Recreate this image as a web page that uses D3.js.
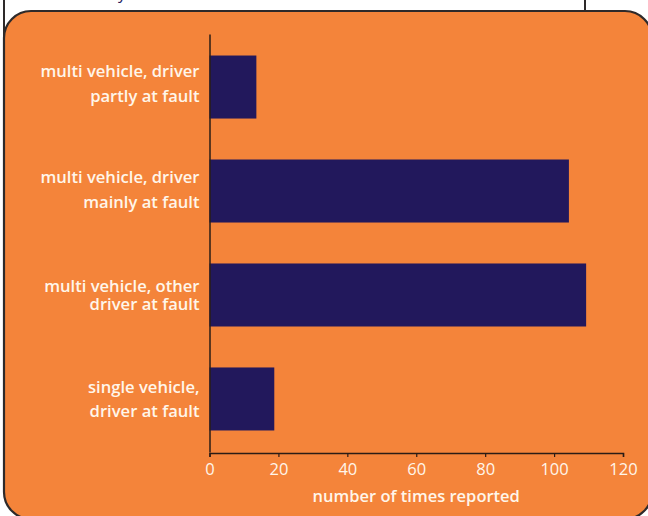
<!DOCTYPE html>
<html>
<head>
<meta charset="utf-8">
<script src="https://cdn.jsdelivr.net/npm/d3@7"></script>
<style>
  html, body { margin: 0; padding: 0; background: #ffffff; }
  svg { display: block; }
</style>
</head>
<body>
<svg id="chart" width="648" height="516"></svg>
<script>
// ---- data ----
const categories = [
  "multi vehicle, driver partly at fault",
  "multi vehicle, driver mainly at fault",
  "multi vehicle, other driver at fault",
  "single vehicle, driver at fault"
];
const categoryLines = [
  ["multi vehicle, driver", "partly at fault"],
  ["multi vehicle, driver", "mainly at fault"],
  ["multi vehicle, other", "driver at fault"],
  ["single vehicle,", "driver at fault"]
];
const values = [13.6, 104.3, 109.3, 18.8];
const xTicks = [0, 20, 40, 60, 80, 100, 120];
const xTitle = "number of times reported";

// ---- layout / style ----
const orange = "#F4843A", navy = "#22185C", cream = "#FFF6EA", border = "#2e2a2a";
const fontFam = "'Open Sans', Lato, sans-serif";

const svg = d3.select("#chart");

// white page remnants above the panel
svg.append("text").attr("x", 118).attr("y", -1)
  .attr("font-family", fontFam).attr("font-size", 16).attr("fill", navy).text("y");
svg.append("line").attr("x1", 4).attr("x2", 4).attr("y1", 0).attr("y2", 60)
  .attr("stroke", border).attr("stroke-width", 2);
svg.append("line").attr("x1", 585).attr("x2", 585).attr("y1", 0).attr("y2", 12)
  .attr("stroke", border).attr("stroke-width", 2);

// orange rounded panel
svg.append("rect").attr("x", 4).attr("y", 11).attr("width", 648).attr("height", 508)
  .attr("rx", 27).attr("ry", 27)
  .attr("fill", orange).attr("stroke", border).attr("stroke-width", 2.2);

const x = d3.scaleLinear().domain([0, 120]).range([209.5, 623]);
const y = d3.scaleBand().domain(categories).range([34, 452])
  .paddingInner(0.394).paddingOuter(0.207);

// bars
svg.append("g").selectAll("rect").data(values).join("rect")
  .attr("x", x(0))
  .attr("y", (d, i) => y(categories[i]))
  .attr("width", d => x(d) - x(0))
  .attr("height", y.bandwidth())
  .attr("fill", navy);

// y axis (line only)
const yAxis = svg.append("g").attr("transform", `translate(${x(0)},0)`)
  .call(d3.axisLeft(y).tickSize(0).tickFormat(""));
yAxis.select(".domain").attr("stroke", "#2a1c16").attr("stroke-width", 1.5);
yAxis.selectAll(".tick").remove();

// x axis
const xAxis = svg.append("g").attr("transform", "translate(0,453)")
  .call(d3.axisBottom(x).tickValues(xTicks).tickSize(4).tickPadding(6));
xAxis.select(".domain").attr("stroke", "#2a1c16").attr("stroke-width", 1.5);
xAxis.selectAll(".tick line").attr("stroke", "#2a1c16").attr("stroke-width", 1.2);
xAxis.selectAll(".tick text").attr("fill", cream)
  .attr("font-family", fontFam).attr("font-size", 16.5);

// x title
svg.append("text").attr("x", (x(0) + x(120)) / 2).attr("y", 502)
  .attr("text-anchor", "middle").attr("fill", cream)
  .attr("font-family", fontFam).attr("font-weight", 600).attr("font-size", 16.5).text(xTitle);

// category labels
const lineGaps = [25, 25, 17.5, 24];
const firstOffsets = [-9.8, -8.5, -2.5, -5.5];
categoryLines.forEach((lines, i) => {
  const cy = y(categories[i]) + y.bandwidth() / 2;
  const t = svg.append("text").attr("text-anchor", "end")
    .attr("fill", cream).attr("font-family", fontFam)
    .attr("font-weight", 600).attr("font-size", 16.6);
  lines.forEach((ln, j) => {
    t.append("tspan").attr("x", 199.5)
      .attr("y", cy + firstOffsets[i] + j * lineGaps[i]).text(ln);
  });
});
</script>
</body>
</html>
